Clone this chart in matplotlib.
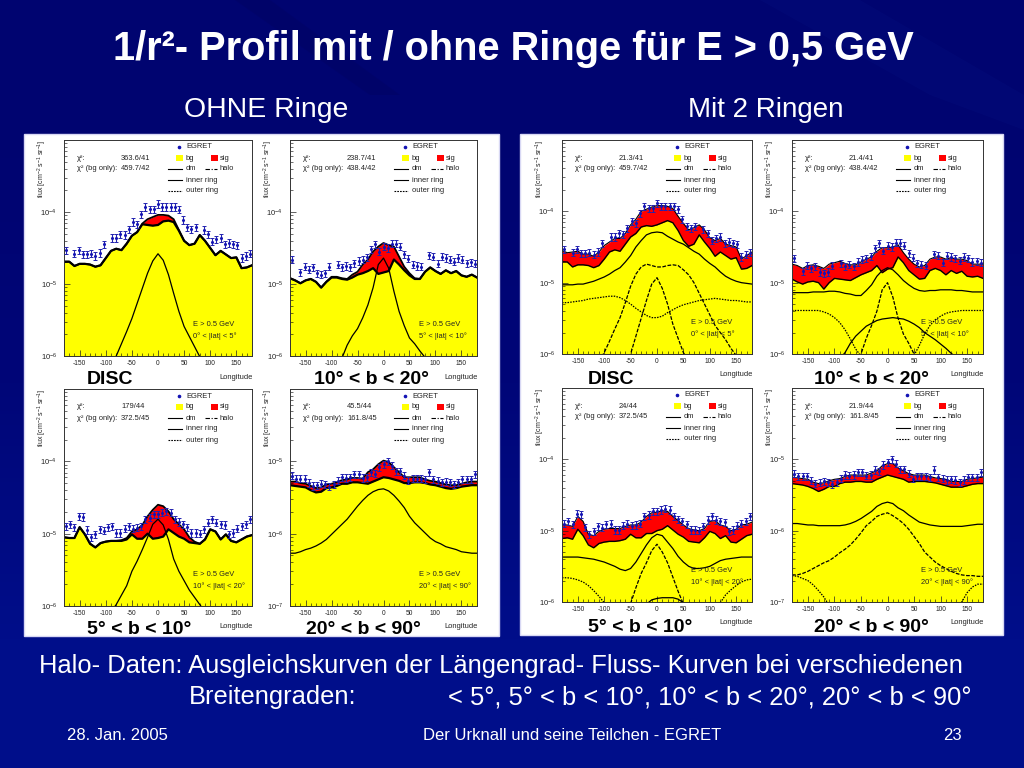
import numpy as np
import matplotlib
matplotlib.use('Agg')
import matplotlib.pyplot as plt
from matplotlib.patches import Rectangle, Polygon
from matplotlib.ticker import FixedLocator, LogLocator, MultipleLocator, NullFormatter

plt.rcParams['font.family'] = ['Liberation Sans', 'DejaVu Sans']
plt.rcParams['mathtext.default'] = 'regular'
plt.rcParams['axes.unicode_minus'] = False

# all curves are log10(flux)
lon = [-180, -170, -160, -150, -140, -130, -120, -110, -100, -90, -80, -70, -60, -50, -40, -30, -20, -10, 0,
       10, 20, 30, 40, 50, 60, 70, 80, 90, 100, 110, 120, 130, 140, 150, 160, 170, 180]
lon_pts = [-176, -168, -160, -152, -144, -136, -128, -120, -112, -104, -96, -88, -80, -72, -64, -56, -48, -40,
           -32, -24, -16, -8, 0, 8, 16, 24, 32, 40, 48, 56, 64, 72, 80, 88, 96, 104, 112, 120, 128, 136, 144,
           152, 160, 168, 176]

# EGRET points, same in left and right columns
pts_disc = [-4.53, None, -4.58, -4.53, -4.59, -4.59, -4.58, -4.61, -4.57, -4.45, None, -4.36, -4.36, -4.31, -4.32,
            -4.24, -4.14, -4.17, -4.03, -3.93, -3.96, -3.96, -3.89, -3.93, -3.93, -3.93, -3.93, -3.97, -4.11, -4.21,
            -4.24, -4.21, None, -4.25, -4.31, -4.41, -4.38, -4.36, -4.45, -4.43, -4.45, -4.46, -4.64, -4.61, -4.58]
pts_10_20 = [-4.66, None, -4.84, -4.76, -4.80, -4.77, -4.85, -4.87, -4.85, -4.76, None, -4.73, -4.77, -4.75, -4.77,
             -4.71, -4.68, -4.66, -4.63, -4.52, -4.45, -4.55, -4.48, -4.50, -4.44, -4.44, -4.48, -4.59, -4.65, -4.73,
             -4.75, -4.76, None, -4.60, -4.62, -4.72, -4.62, -4.64, -4.66, -4.69, -4.64, -4.66, -4.71, -4.70, -4.72]
pts_5_10 = [-4.90, -4.87, -4.91, -4.76, -4.77, -4.95, -5.05, -5.01, -4.94, -4.96, -4.91, -4.90, -4.99, -4.99, -4.93,
            -4.90, -4.93, -4.92, -4.90, -4.80, -4.78, -4.73, -4.73, -4.71, -4.69, -4.71, -4.80, -4.84, -4.87, -4.91,
            -4.99, -4.99, -5.00, -4.94, -4.85, -4.80, -4.85, -4.87, -4.88, -5.01, -4.99, -4.93, -4.90, -4.87, -4.80]
pts_20_90 = [-5.20, -5.24, -5.24, -5.24, -5.30, -5.34, -5.33, -5.31, -5.32, -5.35, -5.32, -5.27, -5.22, -5.23, -5.22,
             -5.18, -5.18, -5.23, -5.22, -5.15, -5.17, -5.08, -5.04, -5.00, -5.06, -5.14, -5.14, -5.20, -5.27, -5.24,
             -5.24, -5.24, -5.25, -5.15, -5.25, -5.27, -5.29, -5.28, -5.29, -5.32, -5.29, -5.25, -5.25, -5.25, -5.18]

# left column, without rings
bg1 = [-4.69, -4.69, -4.75, -4.72, -4.72, -4.73, -4.76, -4.74, -4.64, -4.54, -4.51, -4.53, -4.44, -4.33, -4.28, -4.17,
       -4.18, -4.19, -4.18, -4.13, -4.12, -4.14, -4.26, -4.40, -4.46, -4.44, -4.32, -4.40, -4.50, -4.60, -4.54, -4.59,
       -4.64, -4.63, -4.78, -4.77, -4.74]
sig1 = [-4.69, -4.69, -4.75, -4.72, -4.72, -4.73, -4.76, -4.74, -4.64, -4.54, -4.51, -4.53, -4.44, -4.33, -4.28, -4.16,
        -4.10, -4.07, -4.04, -4.04, -4.05, -4.10, -4.25, -4.40, -4.46, -4.44, -4.32, -4.40, -4.50, -4.60, -4.54, -4.59,
        -4.64, -4.63, -4.78, -4.77, -4.74]
dm1_lon = [-90, -80, -70, -60, -50, -40, -30, -20, -10, 0, 10, 20, 30, 40, 50, 60, 70, 80, 90]
dm1 = [-6.15, -6.0, -5.83, -5.66, -5.48, -5.27, -5.06, -4.85, -4.68, -4.58, -4.67, -4.87, -5.13, -5.38, -5.59, -5.73,
       -5.87, -6.01, -6.15]

bg2 = [-4.92, -4.95, -4.99, -4.95, -4.93, -4.97, -5.05, -4.97, -4.91, -4.91, -4.93, -4.94, -4.91, -4.87, -4.85, -4.82,
       -4.78, -4.86, -4.84, -4.82, -4.66, -4.73, -4.81, -4.88, -4.93, -4.93, -4.83, -4.77, -4.82, -4.86, -4.81, -4.85,
       -4.82, -4.88, -4.90, -4.87, -4.91]
sig2 = [-4.92, -4.95, -4.99, -4.95, -4.93, -4.97, -5.05, -4.97, -4.90, -4.90, -4.92, -4.93, -4.87, -4.83, -4.73, -4.66,
        -4.55, -4.48, -4.43, -4.46, -4.48, -4.62, -4.76, -4.85, -4.92, -4.93, -4.83, -4.77, -4.82, -4.86, -4.81, -4.85,
        -4.82, -4.88, -4.90, -4.87, -4.91]
dm2_lon = dm1_lon
dm2 = [-6.12, -6.03, -5.85, -5.72, -5.62, -5.47, -5.29, -5.05, -4.73, -4.64, -4.78, -5.1, -5.38, -5.58, -5.75, -5.83,
       -5.93, -6.02, -6.12]

bg3 = [-5.05, -5.06, -5.06, -4.91, -5.01, -5.14, -5.19, -5.13, -5.11, -5.10, -5.10, -5.10, -5.08, -5.01, -5.07, -5.07,
       -5.00, -5.07, -5.06, -5.04, -4.94, -4.99, -5.04, -5.07, -5.12, -5.13, -5.14, -5.08, -4.94, -4.97, -5.08, -5.01,
       -5.10, -5.12, -5.08, -5.04, -5.02]
sig3 = [-5.05, -5.06, -5.06, -4.91, -5.01, -5.14, -5.19, -5.13, -5.11, -5.10, -5.10, -5.09, -5.06, -4.97, -4.94, -4.88,
        -4.76, -4.67, -4.60, -4.62, -4.69, -4.80, -4.87, -4.94, -5.05, -5.11, -5.14, -5.08, -4.94, -4.97, -5.08, -5.01,
        -5.10, -5.12, -5.08, -5.04, -5.02]
dm3_lon = dm1_lon
dm3 = [-6.08, -5.98, -5.85, -5.72, -5.52, -5.38, -5.22, -5.05, -4.87, -4.80, -4.88, -5.08, -5.35, -5.52, -5.65, -5.78,
       -5.88, -5.98, -6.08]

bg4 = [-5.33, -5.34, -5.35, -5.36, -5.40, -5.43, -5.42, -5.37, -5.36, -5.34, -5.31, -5.31, -5.29, -5.29, -5.30, -5.31,
       -5.28, -5.25, -5.22, -5.23, -5.25, -5.27, -5.30, -5.30, -5.29, -5.29, -5.30, -5.32, -5.33, -5.35, -5.37, -5.38,
       -5.37, -5.35, -5.34, -5.33, -5.33]
sig4 = [-5.28, -5.28, -5.30, -5.31, -5.34, -5.37, -5.36, -5.32, -5.31, -5.29, -5.26, -5.25, -5.23, -5.23, -5.24, -5.15,
        -5.11, -5.04, -4.99, -5.01, -5.08, -5.15, -5.22, -5.22, -5.22, -5.22, -5.25, -5.27, -5.28, -5.30, -5.32, -5.33,
        -5.33, -5.31, -5.29, -5.28, -5.28]
dm4_lon = lon
dm4 = [-6.27, -6.27, -6.25, -6.22, -6.20, -6.17, -6.13, -6.08, -6.01, -5.94, -5.87, -5.80, -5.71, -5.62, -5.54, -5.47,
       -5.42, -5.39, -5.38, -5.41, -5.47, -5.55, -5.64, -5.76, -5.85, -5.92, -5.99, -6.06, -6.11, -6.14, -6.18, -6.20,
       -6.22, -6.25, -6.26, -6.27, -6.27]

# right column, with 2 rings
bg5 = [-4.71, -4.71, -4.78, -4.75, -4.75, -4.76, -4.79, -4.76, -4.67, -4.57, -4.54, -4.56, -4.46, -4.36, -4.31, -4.22,
       -4.20, -4.21, -4.19, -4.16, -4.13, -4.16, -4.27, -4.41, -4.49, -4.46, -4.33, -4.43, -4.52, -4.63, -4.57, -4.62,
       -4.67, -4.65, -4.81, -4.80, -4.76]
sig5 = [-4.55, -4.58, -4.57, -4.56, -4.60, -4.60, -4.63, -4.57, -4.48, -4.43, -4.38, -4.38, -4.31, -4.19, -4.11, -4.00,
        -3.97, -3.94, -3.92, -3.92, -3.93, -3.96, -4.07, -4.17, -4.26, -4.23, -4.19, -4.26, -4.37, -4.41, -4.38, -4.46,
        -4.48, -4.50, -4.67, -4.62, -4.57]
halo5 = [-5.03, -5.03, -5.03, -5.02, -5.02, -5.00, -4.98, -4.95, -4.92, -4.88, -4.83, -4.79, -4.71, -4.62, -4.50, -4.41,
         -4.33, -4.30, -4.29, -4.30, -4.35, -4.39, -4.43, -4.46, -4.51, -4.56, -4.60, -4.67, -4.73, -4.78, -4.85, -4.91,
         -4.95, -4.98, -5.00, -5.01, -5.02]
inner5_lon = [-110, -100, -90, -80, -70, -60, -50, -40, -30, -20, -10, 0, 10, 20, 30, 40, 50, 60, 70, 80, 90, 100,
              110, 120, 130, 140, 150, 160]
inner5 = [-6.1, -5.98, -5.82, -5.65, -5.49, -5.28, -5.05, -4.88, -4.78, -4.74, -4.76, -4.78, -4.78, -4.76, -4.75, -4.76,
          -4.82, -4.89, -5.00, -5.15, -5.30, -5.45, -5.60, -5.70, -5.80, -5.92, -6.02, -6.15]
dm5_lon = [-60, -50, -40, -30, -20, -10, 0, 10, 20, 30, 40, 50, 60]
dm5 = [-6.1, -6.0, -5.75, -5.5, -5.25, -5.02, -4.93, -5.08, -5.30, -5.58, -5.78, -5.98, -6.1]
outer5 = [-5.28, -5.28, -5.27, -5.26, -5.25, -5.23, -5.22, -5.21, -5.20, -5.19, -5.19, -5.21, -5.25, -5.30, -5.36, -5.41,
          -5.46, -5.49, -5.49, -5.47, -5.42, -5.38, -5.34, -5.31, -5.29, -5.27, -5.25, -5.24, -5.23, -5.22, -5.23, -5.24,
          -5.25, -5.25, -5.26, -5.27, -5.27]

bg6 = [-4.95, -4.99, -5.02, -4.99, -4.98, -5.00, -5.09, -5.00, -4.94, -4.95, -4.96, -4.97, -4.93, -4.89, -4.86, -4.83,
       -4.76, -4.86, -4.81, -4.79, -4.64, -4.72, -4.83, -4.89, -4.95, -4.94, -4.83, -4.80, -4.83, -4.89, -4.83, -4.87,
       -4.84, -4.91, -4.92, -4.91, -4.94]
sig6 = [-4.74, -4.76, -4.80, -4.76, -4.75, -4.77, -4.80, -4.74, -4.72, -4.70, -4.73, -4.75, -4.75, -4.71, -4.67, -4.64,
        -4.56, -4.51, -4.51, -4.50, -4.47, -4.58, -4.67, -4.74, -4.78, -4.76, -4.67, -4.64, -4.64, -4.67, -4.65, -4.67,
        -4.67, -4.69, -4.74, -4.74, -4.74]
halo6 = [-5.14, -5.14, -5.14, -5.14, -5.13, -5.13, -5.13, -5.12, -5.12, -5.13, -5.15, -5.16, -5.18, -5.18, -5.11, -5.03,
         -4.91, -4.83, -4.79, -4.82, -4.89, -4.97, -5.03, -5.08, -5.11, -5.12, -5.11, -5.11, -5.10, -5.10, -5.10, -5.11,
         -5.11, -5.12, -5.13, -5.13, -5.13]
inner6_lon = [-90, -80, -70, -60, -50, -40, -30, -20, -10, 0, 10, 20, 30, 40, 50, 60, 70, 80, 90, 100, 110, 120, 130]
inner6 = [-6.07, -5.98, -5.85, -5.75, -5.68, -5.61, -5.57, -5.53, -5.51, -5.50, -5.49, -5.50, -5.51, -5.54, -5.58, -5.63,
          -5.70, -5.75, -5.80, -5.86, -5.92, -5.99, -6.05]
dm6_lon = dm5_lon
dm6 = [-6.1, -6.0, -5.78, -5.6, -5.4, -5.1, -5.0, -5.2, -5.5, -5.72, -5.85, -6.0, -6.1]
outer6 = [-5.39, -5.39, -5.39, -5.39, -5.39, -5.39, -5.41, -5.44, -5.49, -5.56, -5.66, -5.79, -5.93, -6.03, None, None,
          None, None, None, None, None, None, None, -6.02, -5.88, -5.72, -5.60, -5.52, -5.47, -5.43, -5.41, -5.40,
          -5.39, -5.39, -5.39, -5.39, -5.39]

bg7 = [-5.11, -5.10, -5.12, -4.98, -5.07, -5.20, -5.24, -5.18, -5.16, -5.15, -5.15, -5.14, -5.12, -5.05, -5.10, -5.10,
       -5.04, -5.04, -5.00, -4.98, -4.93, -4.99, -5.05, -5.09, -5.15, -5.16, -5.17, -5.10, -5.01, -5.04, -5.11, -5.07,
       -5.16, -5.17, -5.12, -5.07, -5.05]
sig7 = [-4.92, -4.92, -4.94, -4.80, -4.87, -5.05, -5.07, -5.01, -4.98, -4.97, -4.97, -4.97, -4.94, -4.92, -4.92, -4.88,
        -4.80, -4.75, -4.74, -4.72, -4.73, -4.80, -4.86, -4.92, -4.97, -4.99, -5.00, -4.97, -4.87, -4.86, -4.92, -4.94,
        -5.00, -4.98, -4.92, -4.91, -4.88]
halo7 = [-5.37, -5.37, -5.37, -5.37, -5.38, -5.39, -5.40, -5.42, -5.44, -5.47, -5.50, -5.54, -5.56, -5.53, -5.44, -5.32,
         -5.20, -5.10, -5.05, -5.07, -5.16, -5.25, -5.36, -5.44, -5.50, -5.53, -5.53, -5.52, -5.50, -5.46, -5.42, -5.40,
         -5.39, -5.38, -5.37, -5.37, -5.37]
inner7_lon = [-30, -20, -10, 0, 10, 20, 30, 40, 50, 60]
inner7 = [-6.1, -6.03, -5.97, -5.95, -5.94, -5.94, -5.94, -5.96, -6.01, -6.08]
dm7_lon = dm5_lon
dm7 = [-6.15, -6.02, -5.8, -5.6, -5.45, -5.28, -5.19, -5.30, -5.45, -5.65, -5.85, -6.03, -6.15]
outer7 = [-5.66, -5.66, -5.67, -5.69, -5.72, -5.77, -5.84, -5.92, -6.01, -6.1, None, None, None, None, None, None, None,
          None, None, None, None, None, None, None, None, None, None, None, None, -6.1, -6.01, -5.90, -5.83, -5.77,
          -5.72, -5.69, -5.68]

bg8 = [-5.34, -5.35, -5.36, -5.38, -5.41, -5.45, -5.42, -5.38, -5.38, -5.34, -5.32, -5.32, -5.31, -5.31, -5.32, -5.32,
       -5.28, -5.25, -5.22, -5.24, -5.26, -5.28, -5.32, -5.31, -5.31, -5.31, -5.32, -5.33, -5.35, -5.37, -5.39, -5.39,
       -5.39, -5.37, -5.35, -5.34, -5.34]
sig8 = [-5.25, -5.26, -5.27, -5.28, -5.32, -5.34, -5.33, -5.30, -5.28, -5.27, -5.24, -5.22, -5.22, -5.22, -5.22, -5.19,
        -5.16, -5.09, -5.06, -5.06, -5.12, -5.16, -5.20, -5.22, -5.22, -5.22, -5.24, -5.26, -5.27, -5.28, -5.31, -5.31,
        -5.31, -5.28, -5.27, -5.26, -5.25]
halo8 = [-5.90, -5.90, -5.91, -5.92, -5.92, -5.93, -5.93, -5.93, -5.93, -5.93, -5.92, -5.90, -5.87, -5.83, -5.78, -5.73,
         -5.66, -5.62, -5.60, -5.62, -5.68, -5.72, -5.78, -5.83, -5.88, -5.90, -5.92, -5.93, -5.94, -5.94, -5.94, -5.94,
         -5.94, -5.93, -5.92, -5.91, -5.91]
dm8 = [-6.62, -6.62, -6.60, -6.57, -6.53, -6.49, -6.45, -6.42, -6.37, -6.31, -6.26, -6.20, -6.12, -6.03, -5.93, -5.87,
       -5.80, -5.77, -5.75, -5.79, -5.84, -5.90, -5.98, -6.08, -6.18, -6.30, -6.37, -6.44, -6.49, -6.53, -6.57, -6.60,
       -6.62, -6.63, -6.63, -6.64, -6.64]
outer8 = [-6.63, -6.64, -6.67, -6.70, -6.76, -6.84, -6.93, -7.05, None, None, None, None, None, None, None, None, None,
          None, None, None, None, None, None, None, None, None, None, None, None, None, None, -7.1, -7.0, -6.87, -6.79,
          -6.75, -6.75]

W, H = 1024, 768
fig = plt.figure(figsize=(10.24, 7.68), dpi=100)

# slide background, everything on it is placed in pixels
bg = fig.add_axes([0, 0, 1, 1])
bg.set_xlim(0, W)
bg.set_ylim(H, 0)
bg.axis('off')
grad = np.array([[[0, 4, 112]], [[0, 6, 120]], [[0, 14, 138]]], dtype=np.uint8)
bg.imshow(grad, extent=(0, W, H, 0), aspect='auto', interpolation='bilinear', zorder=0)
bg.add_patch(Polygon([(235, 0), (270, 0), (400, 95), (370, 95)], color='#00025c', alpha=0.3, lw=0, zorder=1))
bg.add_patch(Polygon([(760, 0), (860, 0), (1024, 95), (1024, 130), (930, 95)], color='#0a1c8e', alpha=0.15, lw=0, zorder=1))
bg.add_patch(Rectangle((24, 134), 475, 502, fc='white', ec='#d8d8f4', lw=1, zorder=2))
bg.add_patch(Rectangle((520, 134), 483, 501, fc='white', ec='#d8d8f4', lw=1, zorder=2))


def slide_text(x, y, s, size, ha='center', weight='normal', color='white'):
    bg.text(x, y + 2, s, fontsize=size, ha=ha, va='center', fontweight=weight, color=color, zorder=3)


slide_text(513.5, 47, '1/r²- Profil mit / ohne Ringe für E > 0,5 GeV', 28.6, weight='bold')
slide_text(266, 108, 'OHNE Ringe', 20.4)
slide_text(766, 108, 'Mit 2 Ringen', 20)
slide_text(39, 664, 'Halo- Daten: Ausgleichskurven der Längengrad- Fluss- Kurven bei verschiedenen', 18.4, ha='left')
slide_text(189, 695, 'Breitengraden:', 18.4, ha='left')
slide_text(448, 695, '< 5°, 5° < b < 10°, 10° < b < 20°, 20° < b < 90°', 18.4, ha='left')
slide_text(117, 734, '28. Jan. 2005', 12)
slide_text(572.5, 734, 'Der Urknall und seine Teilchen - EGRET', 12)
slide_text(952.5, 734, '23', 12)

for px, py, s in [(110.5, 378, 'DISC'), (371, 378, '10° < b < 20°'), (139, 628, '5° < b < 10°'),
                  (363, 628, '20° < b < 90°'), (611, 378, 'DISC'), (871, 378, '10° < b < 20°'),
                  (640, 625, '5° < b < 10°'), (871, 625, '20° < b < 90°')]:
    slide_text(px, py, s, 14, weight='bold', color='black')


def pow10(vals):
    return [np.nan if v is None else 10.0 ** v for v in vals]


def draw_panel(box, decade_low, pts, bg_curve, sig_curve, curves, chi, lat_text):
    left, top, right, bottom = box
    w, h = right - left, bottom - top
    ax = fig.add_axes([left / W, 1 - bottom / H, w / W, h / H])
    ax.set_facecolor('white')
    ax.set_yscale('log')
    ax.set_xlim(-180, 180)
    ax.set_ylim(10.0 ** decade_low, 10.0 ** (decade_low + 3))

    # the panels without rings have a heavier outline
    main_lw = 1.6 if len(curves) == 1 else 1.0
    low = 10.0 ** (decade_low - 1)
    ax.fill_between(lon, low, pow10(sig_curve), color='#ff0000', lw=0, zorder=1)
    ax.fill_between(lon, low, pow10(bg_curve), color='#ffff00', lw=0, zorder=1.1)
    ax.plot(lon, pow10(sig_curve), color='black', lw=main_lw * 0.8, zorder=2)
    ax.plot(lon, pow10(bg_curve), color='black', lw=main_lw, zorder=2)
    for xs, ys, ls in curves:
        ax.plot(xs, pow10(ys), color='black', lw=0.9, ls=ls, zorder=2)

    ax.errorbar(lon_pts, pow10(pts), yerr=[[10.0 ** v - 10.0 ** (v - 0.05) if v else 0 for v in pts],
                                           [10.0 ** (v + 0.05) - 10.0 ** v if v else 0 for v in pts]],
                fmt='o', ms=1.2, color='#1414b4', ecolor='#2222b0', elinewidth=0.8, capsize=1.5,
                capthick=0.7, zorder=3)

    ax.yaxis.set_major_locator(FixedLocator([10.0 ** (decade_low + i) for i in range(3)]))
    ax.yaxis.set_minor_locator(LogLocator(base=10, subs=range(2, 10), numticks=12))
    ax.yaxis.set_minor_formatter(NullFormatter())
    ax.set_yticklabels(['$10^{%d}$' % (decade_low + i) for i in range(3)])
    ax.xaxis.set_major_locator(MultipleLocator(50))
    ax.xaxis.set_minor_locator(MultipleLocator(10))
    ax.tick_params(which='major', direction='in', length=4, width=0.5, labelsize=4.8, pad=3, colors='#222222')
    ax.tick_params(which='minor', direction='in', length=2, width=0.4)
    ax.tick_params(axis='y', which='major', labelsize=5.5, pad=5)
    for name, spine in ax.spines.items():
        spine.set_linewidth(0.7)
        spine.set_color('#333333')

    def rel(x, y, s, size=5.4, **kw):
        ax.text(x / w, 1 - y / h, s, transform=ax.transAxes, fontsize=size, va='center', ha=kw.pop('ha', 'left'),
                color='#222222', clip_on=False, zorder=5, **kw)

    def key(x0, x1, y, ls='-'):
        ax.plot([x0 / w, x1 / w], [1 - y / h, 1 - y / h], transform=ax.transAxes, color='black', lw=0.8, ls=ls,
                clip_on=False, zorder=5)

    def swatch(x, y, col):
        ax.add_patch(Rectangle((x / w, 1 - (y + 3) / h), 7 / w, 6 / h, transform=ax.transAxes, fc=col, ec='none',
                               zorder=5))

    rel(13, 18, 'χ²:')
    rel(13, 29, 'χ² (bg only):')
    rel(57, 18, chi[0])
    rel(57, 29, chi[1])
    ax.plot([115 / w], [1 - 7 / h], 'o', ms=1.6, color='#1414b4', transform=ax.transAxes, clip_on=False, zorder=5)
    rel(122, 7, 'EGRET')
    swatch(112, 18, '#ffff00')
    rel(122, 18, 'bg')
    swatch(147, 18, '#ff0000')
    rel(156, 18, 'sig')
    key(104, 118, 29)
    rel(122, 29, 'dm')
    key(141, 153, 29, (0, (4, 1.5, 1, 1.5)))
    rel(156, 29, 'halo')
    key(104, 118, 40)
    rel(122, 40, 'inner ring')
    key(104, 118, 51, (0, (1.5, 1)))
    rel(122, 51, 'outer ring')
    rel(129, h - 32, 'E > 0.5 GeV')
    rel(129, h - 20, lat_text)
    rel(w - 33, h + 21, 'Longitude')
    ax.text(-22 / w, 1, 'flux [cm$^{-2}$ s$^{-1}$ sr$^{-1}$]', transform=ax.transAxes, rotation=90, fontsize=5,
            ha='center', va='top', color='#222222', clip_on=False)
    return ax


dash = (0, (3, 1.2))
dot = (0, (1.2, 1))
solid = '-'
draw_panel((64, 140, 252, 356), -6, pts_disc, bg1, sig1, [(dm1_lon, dm1, solid)],
           ('363.6/41', '459.7/42'), '0° < |lat| < 5°')
draw_panel((290, 140, 477, 356), -6, pts_10_20, bg2, sig2, [(dm2_lon, dm2, solid)],
           ('238.7/41', '438.4/42'), '5° < |lat| < 10°')
draw_panel((64, 389, 252, 606), -6, pts_5_10, bg3, sig3, [(dm3_lon, dm3, solid)],
           ('179/44', '372.5/45'), '10° < |lat| < 20°')
draw_panel((290, 389, 477, 606), -7, pts_20_90, bg4, sig4, [(dm4_lon, dm4, solid)],
           ('45.5/44', '161.8/45'), '20° < |lat| < 90°')
draw_panel((562, 140, 752, 354), -6, pts_disc, bg5, sig5,
           [(lon, halo5, solid), (inner5_lon, inner5, dash), (dm5_lon, dm5, dash), (lon, outer5, dot)],
           ('21.3/41', '459.7/42'), '0° < |lat| < 5°')
draw_panel((792, 140, 983, 354), -6, pts_10_20, bg6, sig6,
           [(lon, halo6, solid), (inner6_lon, inner6, solid), (dm6_lon, dm6, dash), (lon, outer6, dot)],
           ('21.4/41', '438.4/42'), '5° < |lat| < 10°')
draw_panel((562, 388, 752, 602), -6, pts_5_10, bg7, sig7,
           [(lon, halo7, solid), (inner7_lon, inner7, solid), (dm7_lon, dm7, dash), (lon, outer7, dot)],
           ('24/44', '372.5/45'), '10° < |lat| < 20°')
draw_panel((792, 388, 983, 602), -7, pts_20_90, bg8, sig8,
           [(lon, halo8, solid), (lon, dm8, dash), (lon, outer8, dot)],
           ('21.9/44', '161.8/45'), '20° < |lat| < 90°')

fig.savefig('out.png', dpi=100)
